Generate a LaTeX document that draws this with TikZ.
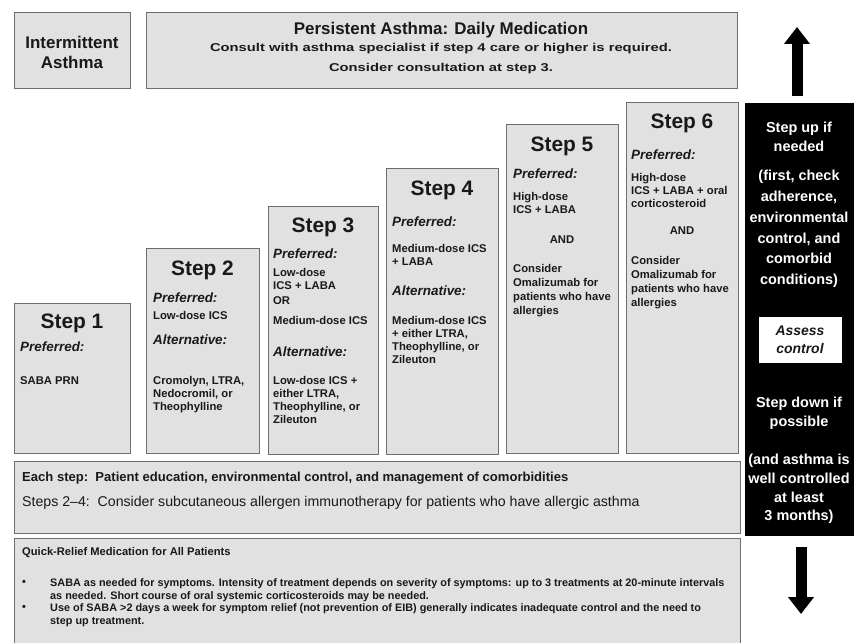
\documentclass[tikz,border=0pt]{standalone}
\usepackage{fontspec}
\setmainfont{Liberation Sans}
\newfontfamily\widefont[FakeStretch=1.3]{Liberation Sans}
\usetikzlibrary{arrows.meta}

\definecolor{boxfill}{RGB}{225,225,225}
\definecolor{boxline}{RGB}{110,110,110}
\definecolor{ink}{RGB}{25,25,25}

\tikzset{
  panel/.style={draw=boxline, fill=boxfill, line width=1bp},
  head/.style={text=ink, font=\bfseries\fontsize{17}{20}\selectfont},
  subhead/.style={text=ink, font=\widefont\bfseries\fontsize{11.4}{14}\selectfont},
  steptitle/.style={text=ink, font=\bfseries\fontsize{21}{24}\selectfont},
  pref/.style={text=ink, anchor=west, inner sep=0pt, font=\bfseries\itshape\fontsize{13.5}{16}\selectfont},
  drug/.style={text=ink, anchor=north west, inner sep=0pt, align=left, font=\bfseries\fontsize{11.3}{13}\selectfont},
  widedrug/.style={drug, font=\bfseries\fontsize{11.3}{14}\selectfont},
  andword/.style={text=ink, inner sep=0pt, font=\bfseries\fontsize{11.3}{13}\selectfont},
  sidetext/.style={text=white, align=center, inner sep=0pt, font=\bfseries\fontsize{14.5}{19}\selectfont},
  assess/.style={text=ink, align=center, inner sep=0pt, font=\bfseries\itshape\fontsize{14}{18}\selectfont},
  bigarrow/.style={line width=11bp, -{Triangle[width=25bp,length=17bp]}},
  rowtext/.style={text=ink, anchor=west, inner sep=0pt},
  bullettext/.style={text=ink, anchor=north west, inner sep=0pt, align=left, font=\bfseries\fontsize{10.9}{12.5}\selectfont},
}

\begin{document}
\begin{tikzpicture}[x=1bp,y=-1bp]
  %%%%% START %%%%%
  \useasboundingbox (0,0) rectangle (854,643);

  % headers
  \draw[panel] (14,13) rectangle (130,89);
  \node[head, align=center] (intermittent) at (72,52) {Intermittent\\Asthma};
  \draw[panel] (146,13) rectangle (737,89);
  \node[head] (persistent) at (441,30) {Persistent Asthma: Daily Medication};
  \node[subhead] (consult) at (441,49) {Consult with asthma specialist if step 4 care or higher is required.};
  \node[subhead] (consultthree) at (441,69) {Consider consultation at step 3.};

  % step boxes
  \draw[panel] (14,303) rectangle (130,453);
  \draw[panel] (146,248) rectangle (259,453);
  \draw[panel] (268,207) rectangle (378,454);
  \draw[panel] (386,169) rectangle (498,454);
  \draw[panel] (506,125) rectangle (618,453);
  \draw[panel] (626,103) rectangle (738,453);

  % step 1
  \node[steptitle] (stepone) at (72,323) {Step 1};
  \node[pref] (prefone) at (20,347) {Preferred:};
  \node[drug] (drugone) at (20,376) {SABA PRN};

  % step 2
  \node[steptitle] (steptwo) at (202.5,270) {Step 2};
  \node[pref] (preftwo) at (153,298) {Preferred:};
  \node[drug] (drugtwo) at (153,311) {Low-dose ICS};
  \node[pref] (alttwo) at (153,340) {Alternative:};
  \node[drug] (othertwo) at (153,376) {Cromolyn, LTRA,\\Nedocromil, or\\Theophylline};

  % step 3
  \node[steptitle] (stepthree) at (323,227) {Step 3};
  \node[pref] (prefthree) at (273,254) {Preferred:};
  \node[drug] (drugthree) at (273,268) {Low-dose\\ICS + LABA};
  \node[drug] (orthree) at (273,296) {OR};
  \node[drug] (mediumthree) at (273,316) {Medium-dose ICS};
  \node[pref] (altthree) at (273,352) {Alternative:};
  \node[drug] (otherthree) at (273,376) {Low-dose ICS +\\either LTRA,\\Theophylline, or\\Zileuton};

  % step 4
  \node[steptitle] (stepfour) at (442,190) {Step 4};
  \node[pref] (preffour) at (392,222) {Preferred:};
  \node[drug] (drugfour) at (392,244) {Medium-dose ICS\\+ LABA};
  \node[pref] (altfour) at (392,291) {Alternative:};
  \node[drug] (otherfour) at (392,316) {Medium-dose ICS\\+ either LTRA,\\Theophylline, or\\Zileuton};

  % step 5
  \node[steptitle] (stepfive) at (562,146) {Step 5};
  \node[pref] (preffive) at (513,174) {Preferred:};
  \node[drug] (drugfive) at (513,192) {High-dose\\ICS + LABA};
  \node[andword] (andfive) at (562,240) {AND};
  \node[widedrug] (omalfive) at (513,264) {Consider\\Omalizumab for\\patients who have\\allergies};

  % step 6
  \node[steptitle] (stepsix) at (682,123) {Step 6};
  \node[pref] (prefsix) at (631,155) {Preferred:};
  \node[drug] (drugsix) at (631,173) {High-dose\\ICS + LABA + oral\\corticosteroid};
  \node[andword] (andsix) at (682,231) {AND};
  \node[widedrug] (omalsix) at (631,256) {Consider\\Omalizumab for\\patients who have\\allergies};

  % side panel
  \draw[fill=black] (745,103) rectangle (853,535);
  \node[sidetext] (stepup) at (799,136.5) {Step up if\\needed};
  \node[sidetext, font=\bfseries\fontsize{14.5}{20.9}\selectfont] (check) at (799,229) {(first, check\\adherence,\\environmental\\control, and\\comorbid\\conditions)};
  \draw[fill=white, draw=black] (758,316) rectangle (842,363);
  \node[assess] (assesscontrol) at (800,340) {Assess\\control};
  \node[sidetext, font=\bfseries\fontsize{14.5}{19.5}\selectfont] (stepdown) at (799,413) {Step down if\\possible};
  \node[sidetext, font=\bfseries\fontsize{14.5}{18.8}\selectfont] (wellcontrolled) at (799,489) {(and asthma is\\well controlled\\at least\\3 months)};

  % arrows
  \coordinate (upbase) at (797,96);
  \coordinate (uptip) at (797,27);
  \draw[bigarrow] (upbase) -- (uptip);
  \coordinate (downbase) at (801,547);
  \coordinate (downtip) at (801,614);
  \draw[bigarrow] (downbase) -- (downtip);

  % each step
  \draw[panel] (14,461) rectangle (740,533);
  \node[rowtext, font=\bfseries\fontsize{13.1}{15}\selectfont] (eachstep) at (22,478) {Each step:\ \ Patient education, environmental control, and management of comorbidities};
  \node[rowtext, font=\fontsize{14.2}{16}\selectfont] (immuno) at (22,503) {Steps 2–4:\ \ Consider subcutaneous allergen immunotherapy for patients who have allergic asthma};

  % quick relief
  \draw[panel] (14,538) rectangle (740,650);
  \node[rowtext, font=\bfseries\fontsize{11.2}{13}\selectfont] (quickrelief) at (22,553) {Quick-Relief Medication for All Patients};
  \node[rowtext, font=\bfseries\fontsize{10.9}{12}\selectfont] (dotone) at (22,583) {\textbullet};
  \node[bullettext] (sabaneeded) at (50,578.5) {SABA as needed for symptoms. Intensity of treatment depends on severity of symptoms: up to 3 treatments at 20-minute intervals\\as needed. Short course of oral systemic corticosteroids may be needed.};
  \node[rowtext, font=\bfseries\fontsize{10.9}{12}\selectfont] (dottwo) at (22,608) {\textbullet};
  \node[bullettext] (sabause) at (50,603.5) {Use of SABA >2 days a week for symptom relief (not prevention of EIB) generally indicates inadequate control and the need to\\step up treatment.};

  %%%%% END %%%%%
\end{tikzpicture}
\end{document}
